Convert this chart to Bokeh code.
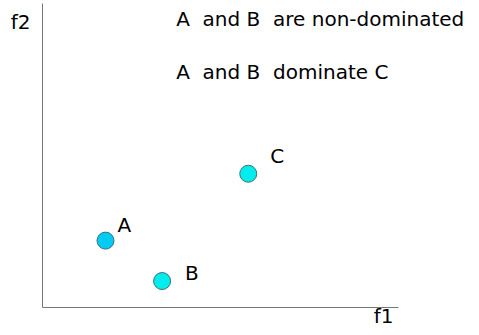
from bokeh.plotting import figure
from bokeh.models import LinearAxis, FixedTicker, Range1d, ColumnDataSource
from bokeh.core.properties import value
from bokeh.embed import file_html
from bokeh.resources import INLINE

# ---- data ----
names = ["A", "B", "C"]
f1 = [1.77, 3.36, 5.78]
f2 = [2.20, 0.87, 4.40]
NB = "\u00a0"
notes = ["A" + NB + " and B" + NB + " are non-dominated",
         "A" + NB + " and B" + NB + " dominate C"]

# ---- styling / layout ----
FONT = value("DejaVu Sans")
FS = "20px"
fills = ["#00cbf2", "#00eded", "#00eded"]
label_dx = [12, 23, 22]
label_dy = [-16, -8, -17.5]
AXIS_MAX = 10
note_x = [3.756, 3.756]
note_y = [9.49, 7.763]

W, H = 471, 327
p = figure(width=W, height=H, output_backend="svg", toolbar_location=None,
           x_axis_type=None, y_axis_type=None, min_border=0,
           x_range=Range1d(-1.1798, 12.051), y_range=Range1d(-0.6579, 10.099))
p.outline_line_color = None
p.background_fill_color = "white"

for ax, side in ((LinearAxis(), "below"), (LinearAxis(), "left")):
    ax.fixed_location = 0
    ax.bounds = (0, AXIS_MAX)
    ax.ticker = FixedTicker(ticks=[])
    ax.major_tick_line_color = None
    ax.minor_tick_line_color = None
    ax.major_label_text_font_size = "0px"
    ax.axis_line_color = "#777777"
    ax.axis_line_width = 1
    p.add_layout(ax, side)

src = ColumnDataSource(dict(x=f1, y=f2, name=names, fill=fills,
                            dx=label_dx, dy=label_dy))
p.scatter("x", "y", source=src, size=17, fill_color="fill",
          line_color="#3f6f78", line_width=1)
p.text("x", "y", text="name", source=src, x_offset="dx", y_offset="dy",
       text_font=FONT, text_font_size=FS, text_color="black",
       text_baseline="middle", text_align="left")

# axis names at the axis ends
p.text(x=[AXIS_MAX], y=[0], text=["f1"], x_offset=-5, y_offset=8,
       text_font=FONT, text_font_size=FS, text_color="black",
       text_align="right", text_baseline="middle")
p.text(x=[0], y=[AXIS_MAX], text=["f2"], x_offset=-12, y_offset=18,
       text_font=FONT, text_font_size=FS, text_color="black",
       text_align="right", text_baseline="middle")

# notes
p.text(x=note_x, y=note_y, text=notes,
       text_font=FONT, text_font_size=FS, text_color="black",
       text_align="left", text_baseline="middle")

open("out.html", "w").write(file_html(p, INLINE))
